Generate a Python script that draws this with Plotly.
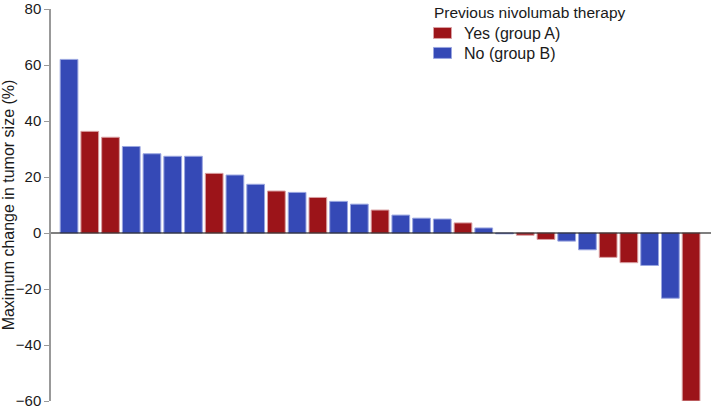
import plotly.graph_objects as go

values = [62, 36.3, 34.2, 30.9, 28.3, 27.4, 27.4, 21.3, 20.7, 17.4,
          15.0, 14.5, 12.7, 11.3, 10.3, 8.2, 6.4, 5.3, 5.0, 3.6,
          1.8, -0.3, -0.8, -2.3, -2.9, -6.0, -8.7, -10.6, -11.6, -23.3, -60]
groups = ["B", "A", "A", "B", "B", "B", "B", "A", "B", "B",
          "A", "B", "A", "B", "B", "A", "B", "B", "B", "A",
          "B", "B", "A", "A", "B", "B", "A", "A", "B", "B", "A"]
y_ticks = [-60, -40, -20, 0, 20, 40, 60, 80]
legend_title = "Previous nivolumab therapy"
series = [("A", "Yes (group A)", "#9C1419", "#D9A0A3"),
          ("B", "No (group B)", "#3549B6", "#9AA6E0")]

W, H = 711, 408
L, R, T, B = 51, 0, 8.5, 7
PW, PH = W - L - R, H - T - B


def px(x):
    return (x - L) / PW


def py(y):
    return 1 - (y - T) / PH


fig = go.Figure()
for g, name, col, line in series:
    xs = [i for i, gg in enumerate(groups) if gg == g]
    ys = [values[i] for i in xs]
    fig.add_trace(go.Bar(x=xs, y=ys, name=name, showlegend=False,
                         marker=dict(color=col, line=dict(color=line, width=1)),
                         width=0.855))

fig.add_shape(type="line", xref="paper", yref="y", x0=0, x1=1, y0=0, y1=0,
              line=dict(color="#000000", width=1.2), layer="above")

# legend (drawn manually for exact placement)
fig.add_annotation(text=legend_title, xref="paper", yref="paper",
                   x=px(432), y=py(12), xanchor="left", yanchor="middle",
                   showarrow=False, font=dict(size=15.5, color="#1a1a1a"))
for k, (g, name, col, line) in enumerate(series):
    cy = 32.5 + 20 * k
    fig.add_shape(type="rect", xref="paper", yref="paper",
                  x0=px(433.5), x1=px(451.5), y0=py(cy - 5.5), y1=py(cy + 5.5),
                  fillcolor=col, line=dict(color=line, width=1))
    fig.add_annotation(text=name, xref="paper", yref="paper",
                       x=px(462), y=py(cy + 0.5), xanchor="left", yanchor="middle",
                       showarrow=False, font=dict(size=16, color="#1a1a1a"))

fig.update_layout(
    width=W, height=H,
    margin=dict(l=L, r=R, t=T, b=B),
    plot_bgcolor="white", paper_bgcolor="white",
    font=dict(family="Liberation Sans, Arial, sans-serif", size=15, color="#1a1a1a"),
    barmode="overlay",
    showlegend=False,
    xaxis=dict(range=[-0.87, 30.96], visible=False, showgrid=False, zeroline=False),
    yaxis=dict(range=[-60, 80], tickvals=y_ticks, ticks="outside", ticklen=5,
               tickcolor="#999999", showline=True, linecolor="#999999", linewidth=1.5,
               showgrid=False, zeroline=False, tickfont=dict(size=15), automargin=False,
               ticklabeloverflow="allow",
               title=dict(text="Maximum change in tumor size (%)", font=dict(size=16), standoff=3)),
)

fig.write_html("out.html", config={"displayModeBar": False},
               post_script="document.body.style.margin='0';document.body.style.overflow='hidden';")
